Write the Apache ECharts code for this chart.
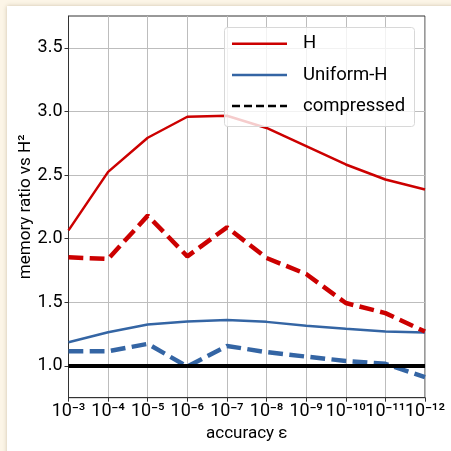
<!DOCTYPE html>
<html>
<head>
<meta charset="utf-8">
<script src="https://cdn.jsdelivr.net/npm/echarts@6/dist/echarts.min.js"></script>
<style>
  html, body { margin: 0; padding: 0; width: 451px; height: 451px; overflow: hidden; background: #fcf5e7; }
  #panel { position: absolute; left: 7px; top: 6px; width: 460px; height: 460px; background: #ffffff; box-shadow: 0 0 4px rgba(120,100,60,0.35); }
  #chart { position: absolute; left: 0; top: 0; width: 451px; height: 451px; }
</style>
</head>
<body>
<div id="panel"></div>
<div id="chart"></div>
<script>
// categories (accuracy epsilon)
const categories = ['10⁻³', '10⁻⁴', '10⁻⁵', '10⁻⁶', '10⁻⁷', '10⁻⁸', '10⁻⁹', '10⁻¹⁰', '10⁻¹¹', '10⁻¹²'];
// series values (memory ratio vs H²)
const hValues = [2.065, 2.525, 2.793, 2.958, 2.966, 2.870, 2.727, 2.583, 2.465, 2.386];
const hCompressed = [1.853, 1.840, 2.181, 1.861, 2.089, 1.848, 1.722, 1.494, 1.415, 1.270];
const uniformValues = [1.186, 1.265, 1.325, 1.349, 1.360, 1.346, 1.315, 1.291, 1.270, 1.262];
const uniformCompressed = [1.115, 1.115, 1.173, 0.995, 1.157, 1.108, 1.073, 1.039, 1.016, 0.911];
const referenceRatio = 1.0;
// y tick labels
const yTicks = [1.0, 1.5, 2.0, 2.5, 3.0, 3.5];
const yMin = 0.75, yMax = 3.75;

const RED = '#cc0000', BLUE = '#3465a4';
const FONT = 'Roboto';

const chart = echarts.init(document.getElementById('chart'), null, { renderer: 'canvas' });

const legendItems = [
  { name: 'H', color: RED, dash: null },
  { name: 'Uniform-H', color: BLUE, dash: null },
  { name: 'compressed', color: '#000000', dash: [8, 4] }
];
const legendGraphics = [{
  type: 'rect', z: 100,
  shape: { x: 224.5, y: 27.5, width: 190, height: 99, r: 3 },
  style: { fill: 'rgba(255,255,255,0.8)', stroke: '#d8d8d8', lineWidth: 1 }
}];
legendItems.forEach((it, i) => {
  const y = 43.7 + i * 31.2;
  legendGraphics.push({
    type: 'line', z: 101,
    shape: { x1: 232, y1: y, x2: 287, y2: y },
    style: { stroke: it.color, lineWidth: 2.5, lineDash: it.dash || null }
  });
  legendGraphics.push({
    type: 'text', z: 101, x: 303, y: y,
    style: { text: it.name, fill: '#000', font: '18.5px ' + FONT, textVerticalAlign: 'middle', textAlign: 'left' }
  });
});

const dashLine = [14.8, 6.4];

chart.setOption({
  animation: false,
  backgroundColor: 'transparent',
  grid: { left: 68.5, right: 26, top: 16, bottom: 53.3, show: true, borderColor: '#333', borderWidth: 1, containLabel: false },
  xAxis: {
    type: 'category', data: categories, boundaryGap: false,
    name: 'accuracy ε', nameLocation: 'middle', nameGap: 27,
    nameTextStyle: { fontFamily: FONT, fontSize: 17, color: '#000' },
    axisLine: { lineStyle: { color: '#333', width: 1 } },
    axisTick: { show: true, length: 4, lineStyle: { color: '#333' }, alignWithLabel: true },
    axisLabel: { fontFamily: FONT, fontSize: 18, color: '#000', margin: 5, interval: 0 },
    splitLine: { show: true, lineStyle: { color: '#bdbdbd', width: 1 } }
  },
  yAxis: {
    type: 'value', min: yMin, max: yMax,
    name: 'memory ratio vs H²', nameLocation: 'middle', nameGap: 34, nameMoveOverlap: false,
    nameTextStyle: { fontFamily: FONT, fontSize: 17, color: '#000' },
    axisLine: { show: true, lineStyle: { color: '#333', width: 1 } },
    axisTick: { show: true, length: 4, lineStyle: { color: '#333' }, customValues: yTicks },
    axisLabel: { fontFamily: FONT, fontSize: 18, color: '#000', margin: 6, customValues: yTicks, formatter: v => v.toFixed(1) },
    splitLine: { show: true, lineStyle: { color: '#bdbdbd', width: 1 } }
  },
  series: [
    {
      name: 'reference', type: 'line', data: [], z: 1,
      markLine: {
        silent: true, symbol: 'none', label: { show: false },
        lineStyle: { color: '#000', width: 4, type: 'solid' },
        data: [{ yAxis: referenceRatio }]
      }
    },
    { name: 'H', type: 'line', data: hValues, symbol: 'none', z: 3, lineStyle: { color: RED, width: 2.5 } },
    { name: 'Uniform-H', type: 'line', data: uniformValues, symbol: 'none', z: 3, lineStyle: { color: BLUE, width: 2.5 } },
    { name: 'H compressed', type: 'line', data: hCompressed, symbol: 'none', z: 3, lineStyle: { color: RED, width: 4.5, type: dashLine } },
    { name: 'Uniform-H compressed', type: 'line', data: uniformCompressed, symbol: 'none', z: 3, lineStyle: { color: BLUE, width: 4.5, type: dashLine } }
  ],
  graphic: legendGraphics
});
</script>
</body>
</html>
